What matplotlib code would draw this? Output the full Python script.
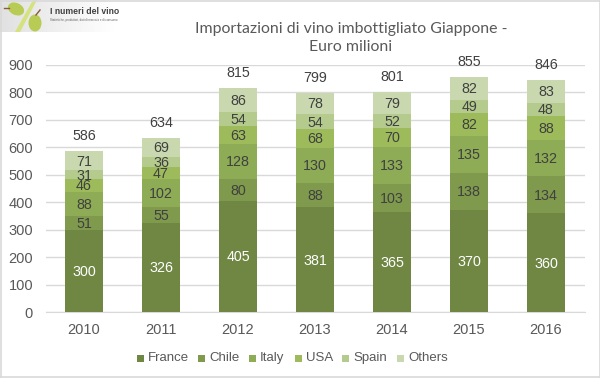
import numpy as np
import matplotlib
matplotlib.use("Agg")
import matplotlib.pyplot as plt
from matplotlib.patches import Ellipse, Polygon, Rectangle

years = ["2010", "2011", "2012", "2013", "2014", "2015", "2016"]
france = [300, 326, 405, 381, 365, 370, 360]
chile = [51, 55, 80, 88, 103, 138, 134]
italy = [88, 102, 128, 130, 133, 135, 132]
usa = [46, 47, 63, 68, 70, 82, 88]
spain = [31, 36, 54, 54, 52, 49, 48]
others = [71, 69, 86, 78, 79, 82, 83]
totals = [586, 634, 815, 799, 801, 855, 846]

series = [("France", france, "#6f8743", "white"),
          ("Chile", chile, "#7f9a4c", "#404040"),
          ("Italy", italy, "#8eab55", "#404040"),
          ("USA", usa, "#9dbb5b", "#404040"),
          ("Spain", spain, "#b5cb8e", "#404040"),
          ("Others", others, "#c9d8ae", "#404040")]

W, H = 600, 378
plt.rcParams["font.family"] = ["Liberation Sans", "DejaVu Sans"]
fig = plt.figure(figsize=(W / 100, H / 100), dpi=100, facecolor="white")
L, R, T, B = 45.5, 584.5, 65, 312
ax = fig.add_axes([L / W, 1 - B / H, (R - L) / W, (B - T) / H])

x = np.arange(len(years))
bottom = np.zeros(len(years))
for name, vals, col, tc in series:
    v = np.array(vals, float)
    ax.bar(x, v, 0.5, bottom=bottom, color=col, label=name, zorder=3)
    for xi, b, val in zip(x, bottom, vals):
        ax.annotate(str(val), (xi, b + val / 2), xytext=(0, -0.7), textcoords="offset points",
                    ha="center", va="center", fontsize=10.3, color=tc, zorder=4)
    bottom += v
for xi, b, t in zip(x, bottom, totals):
    ax.annotate(str(t), (xi, b), xytext=(0, 5.8), textcoords="offset points",
                ha="center", va="bottom", fontsize=10.3, color="#404040", zorder=4)

ax.set_xlim(-0.5, len(years) - 0.5)
ax.set_ylim(0, 900)
ax.set_yticks(range(0, 901, 100))
ax.set_xticks(x, years)
ax.tick_params(length=0, labelsize=10.5, labelcolor="#595959", pad=8)
ax.tick_params(axis="y", pad=9)
ax.grid(axis="y", color="#d9d9d9", lw=1, zorder=0)
ax.set_axisbelow(True)
for s in ("top", "right", "left"):
    ax.spines[s].set_visible(False)
ax.spines["bottom"].set_color("#d9d9d9")

fig.text(351 / W, 1 - 29 / H, "Importazioni di vino imbottigliato Giappone -", ha="center",
         va="center", fontsize=11.4, color="#595959", fontfamily="Lato")
fig.text(351 / W, 1 - 47 / H, "Euro milioni", ha="center", va="center", fontsize=11.4,
         color="#595959", fontfamily="Lato")

# legend, placed by hand to follow the reference spacing
legend_x = [137, 198, 249, 295, 342, 397]
for (name, _, col, _), lx in zip(series, legend_x):
    fig.add_artist(Rectangle((lx / W, 1 - 362 / H), 7 / W, 7 / H, color=col,
                             transform=fig.transFigure, lw=0))
    fig.text((lx + 11) / W, 1 - 358 / H, name, va="center", fontsize=9.5, color="#595959")

# figure border
for xs, ys in [((0, 1), (1 - 0.5 / H, 1 - 0.5 / H)), ((0, 1), (1 - 376.5 / H, 1 - 376.5 / H)),
               ((0.7 / W, 0.7 / W), (0, 1)), ((599.5 / W, 599.5 / W), (0, 1))]:
    fig.add_artist(plt.Line2D(xs, ys, color="#d9d9d9", lw=1.2, transform=fig.transFigure))

# logo
logo = fig.add_axes([0, 1 - 32 / H, 117 / W, 32 / H])
logo.set_xlim(0, 117)
logo.set_ylim(32, 0)
logo.axis("off")
grad = np.linspace(0.88, 1, 256)[None, :]
logo.imshow(grad, cmap="gray", vmin=0, vmax=1, extent=(0, 117, 32, 0), aspect="auto")
logo.add_patch(Polygon([[15, 32], [33, 0], [37, 0], [20, 32]], color="#d5e27f", lw=0))
logo.add_patch(Ellipse((16, 9), 17, 12, angle=25, color="#b8cc55", lw=0))
logo.add_patch(Ellipse((35, 23), 13, 17, color="#b8cc55", lw=0))
logo.plot([4, 9], [8, 8], color="#8a5a3a", lw=1)
logo.plot([36, 40], [15, 10], color="#8a5a3a", lw=1)
logo.text(50, 12, "I numeri del vino", fontsize=6.2, fontweight="bold", color="#404040", va="center")
logo.text(50, 20.5, "Statistiche, produttori, dati di mercato e di consumo.", fontsize=2.1,
          color="#606060", va="center")

fig.savefig("out.png", dpi=100)
